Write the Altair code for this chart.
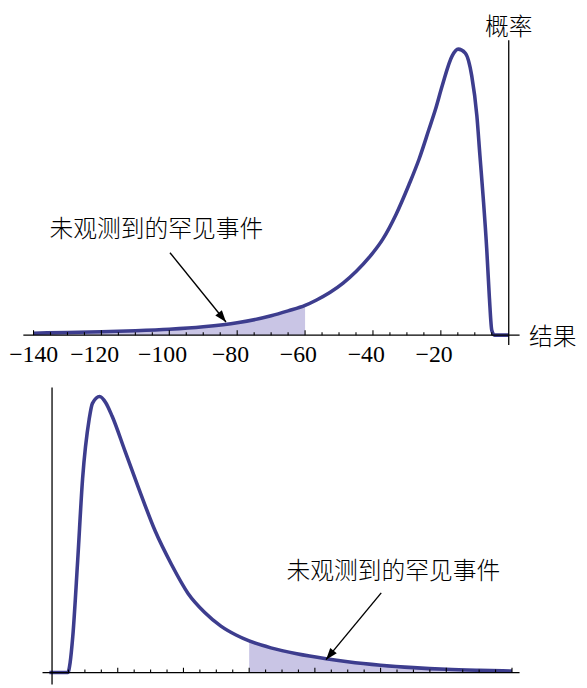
import altair as alt
import pandas as pd

# ---------------- data ----------------
# upper panel: outcome (x) and probability (arbitrary units)
top_x = [-140, -130, -120, -110, -100, -90, -80, -70, -65, -60, -56.6, -52.7,
         -48.8, -44.9, -41.0, -37.1, -33.2, -29.4, -26.4, -23.5, -21.6, -19.6,
         -16.7, -14.9, -12.8, -10.9, -9.4, -8.5, -7.5, -6.5, -5.7, -5.0, -4.2, 0]
top_p = [2, 2.7, 3.5, 4.5, 6, 8.5, 12.5, 19.5, 24.5, 30, 35.5, 43,
         52.5, 64.5, 79, 97, 122, 152, 178, 208, 228, 252,
         282, 289, 285, 262, 222, 182, 138, 88, 38, 5, 0, 0]

# lower panel (mirror image)
bot_x = [-0.8, 4.8, 5.5, 6.3, 7.8, 9.3, 11.3, 12.3, 14.5, 16.3, 18.3, 22.3,
         26.4, 31.4, 36.4, 41.4, 46.4, 51.4, 56, 60, 66.6, 74.5, 83.4, 90,
         100, 110, 120, 130, 140]
bot_p = [0, 0, 10, 36, 113, 196, 256, 272, 279, 273, 259, 223,
         186, 143, 109, 80, 61, 47, 38, 32, 25, 19, 14, 11,
         7.5, 5, 3.3, 2.3, 1.6]

top_tick_labels = [-140, -120, -100, -80, -60, -40, -20]
top_tail_end = -60      # shaded tail: everything left of this
bot_tail_start = 60     # shaded tail: everything right of this

annotation = "未观测到的罕见事件"
x_title = "结果"
y_title = "概率"

LINE = "#3d3d8e"
FILL = "#c9c5e5"
BLACK = "#000000"
CJK = "Noto Sans CJK SC"
SERIF = "Liberation Serif, Times New Roman, DejaVu Serif, serif"

W = 520
H = 666

# both panels share one plot area, each with its own scales
TX = alt.Scale(domain=[-144.02, 7.58], nice=False, zero=False)
TY = alt.Scale(domain=[-351, 315], nice=False, zero=False)
BX = alt.Scale(domain=[-9.79, 146.84], nice=False, zero=False)
BY = alt.Scale(domain=[-10, 656], nice=False, zero=False)

ARROW = "M0,0 L0.36,1 L-0.36,1 Z"


def panel(xs, ps, sx, sy, area_df, axis_line, yaxis_line, ticks, texts,
          arrow, arrow_angle, extra_layers):
    X = lambda f: alt.X(f, type="quantitative", scale=sx, axis=None)
    Y = lambda f: alt.Y(f, type="quantitative", scale=sy, axis=None)
    curve = pd.DataFrame({"x": xs, "p": ps})

    area = alt.Chart(area_df).mark_area(color=FILL, opacity=1,
                                        interpolate="monotone").encode(
        x=X("x"), y=Y("p"), y2=alt.Y2("b"))
    line = alt.Chart(curve).mark_line(color=LINE, strokeWidth=3.6,
                                      interpolate="monotone",
                                      strokeJoin="round").encode(
        x=X("x"), y=Y("p"))
    xline = alt.Chart(axis_line).mark_rule(color=BLACK, strokeWidth=1.3).encode(
        x=X("x1"), x2=alt.X2("x2"), y=Y("y"))
    yline = alt.Chart(yaxis_line).mark_rule(color=BLACK, strokeWidth=1.3).encode(
        x=X("x"), y=Y("y1"), y2=alt.Y2("y2"))
    tk = alt.Chart(ticks).mark_rule(color=BLACK, strokeWidth=1.1).encode(
        x=X("x"), y=Y("y"), y2=alt.Y2("h"))
    txt = alt.Chart(texts).mark_text(font=CJK, fontSize=24, fontWeight=300,
                                     color=BLACK, baseline="middle",
                                     align="center").encode(
        x=X("x"), y=Y("y"), text="t:N")
    arr = alt.Chart(arrow).mark_rule(color=BLACK, strokeWidth=1.4).encode(
        x=X("x1"), y=Y("y1"), x2=alt.X2("x2"), y2=alt.Y2("y2"))
    head = alt.Chart(arrow).mark_point(shape=ARROW, filled=True, color=BLACK,
                                       opacity=1, size=560, angle=arrow_angle,
                                       strokeWidth=0).encode(
        x=X("x2"), y=Y("y2"))
    layers = [area, line, xline, yline, tk, arr, head, txt] + [
        L(X, Y) for L in extra_layers]
    return alt.layer(*layers)


# ---------- top panel ----------
top_df = pd.DataFrame({"x": top_x, "p": top_p})
top_area = top_df[top_df.x <= top_tail_end].assign(b=0)
top_ticks = pd.DataFrame({"x": list(range(-140, 0, 5))})
top_ticks["y"] = 0
top_ticks["h"] = [5 if v % 20 == 0 else 3 for v in top_ticks.x]
top_texts = pd.DataFrame({"x": [-103.8, 13.0, 0], "y": [106, -2.5, 310],
                          "t": [annotation, x_title, y_title]})
top_arrow = pd.DataFrame({"x1": [-99.8], "y1": [83.3], "x2": [-83.3], "y2": [13.3]})


def lbl_layer(vals, dx):
    def make(X, Y):
        d = pd.DataFrame({"x": vals, "y": [-26.7] * len(vals),
                          "t": ["\u2212" + str(abs(v)) for v in vals]})
        return alt.Chart(d).mark_text(font=SERIF, fontSize=24, color=BLACK,
                                      align="right", baseline="alphabetic",
                                      dx=dx).encode(
            x=X("x"), y=Y("y"), text="t:N")
    return make


lab_first = [v for v in top_tick_labels if v == -140]
lab3 = [v for v in top_tick_labels if abs(v) >= 100 and v != -140]
lab2 = [v for v in top_tick_labels if abs(v) < 100]

top = panel(top_x, top_p, TX, TY, top_area,
            pd.DataFrame({"x1": [-143], "x2": [3.2], "y": [0]}),
            pd.DataFrame({"x": [0], "y1": [-10], "y2": [298]}),
            top_ticks, top_texts, top_arrow, 141,
            [lbl_layer(lab_first, 25), lbl_layer(lab3, 18), lbl_layer(lab2, 12)])

# ---------- bottom panel ----------
bot_df = pd.DataFrame({"x": bot_x, "p": bot_p})
bot_area = bot_df[bot_df.x >= bot_tail_start].assign(b=0)
bot_ticks = pd.DataFrame({"x": list(range(5, 141, 5))})
bot_ticks["y"] = 0
bot_ticks["h"] = [5 if v % 20 == 0 else 3 for v in bot_ticks.x]
bot_texts = pd.DataFrame({"x": [103.9], "y": [101.6], "t": [annotation]})
bot_arrow = pd.DataFrame({"x1": [100.2], "y1": [80.6], "x2": [83.4], "y2": [13.1]})

bottom = panel(bot_x, bot_p, BX, BY, bot_area,
               pd.DataFrame({"x1": [-2.9], "x2": [142.3], "y": [0]}),
               pd.DataFrame({"x": [0], "y1": [-12], "y2": [288]}),
               bot_ticks, bot_texts, bot_arrow, 219.5, [])

chart = alt.layer(top, bottom).resolve_scale(
    x="independent", y="independent"
).properties(
    width=W, height=H,
    padding={"left": 12, "top": 12, "right": 45, "bottom": 2},
    autosize=alt.AutoSizeParams(type="none"),
).configure_view(stroke=None)

chart.save("out.html", embed_options={"renderer": "svg", "actions": False})
